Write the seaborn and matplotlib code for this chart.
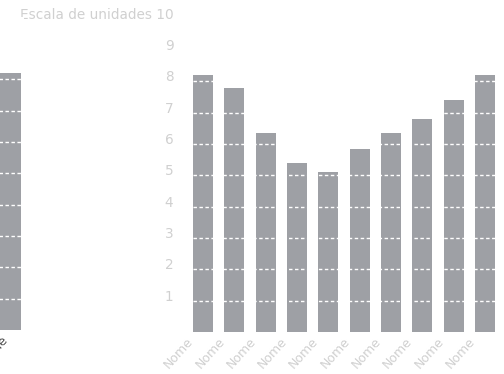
import matplotlib
matplotlib.use("Agg")
import matplotlib.pyplot as plt
from matplotlib.transforms import ScaledTranslation
import pandas as pd
import seaborn as sns

# Values per bar (scale of units 0-10)
categorias = ["Nome"] * 10
valores = [8.2, 7.8, 6.35, 5.4, 5.1, 5.85, 6.35, 6.8, 7.4, 8.2]
rotulos_y = ["1", "2", "3", "4", "5", "6", "7", "8", "9", "Escala de unidades 10"]
marcas_y = [1, 2, 3, 4, 5, 6, 7, 8, 9, 10]

# Neighbouring chart, only its last bar shows at the left edge
categorias_esq = ["Nome"]
valores_esq = [8.2]

cor_barra = "#9ea0a5"
cor_texto = "#d0d0d0"

sns.set_theme(style="white")
plt.rcParams["font.family"] = ["DejaVu Sans"]

W, H = 504, 374
fig = plt.figure(figsize=(W / 100, H / 100), dpi=100)
fig.patch.set_facecolor("white")

passo = 31.33  # pixels per category / per unit


def estilo(ax, rot_x, cor_x, dx_px):
    ax.set_facecolor("white")
    sns.despine(ax=ax, left=True, bottom=True)
    ax.set_ylim(0, 10)
    ax.set_yticks(marcas_y)
    ax.grid(axis="y", color="white", linestyle=(0, (2.5, 1.8)), linewidth=1.0)
    ax.grid(axis="x", visible=False)
    ax.set_axisbelow(False)
    ax.tick_params(axis="both", length=0)
    ax.set_xlabel("")
    ax.set_ylabel("")
    ax.set_xticks(range(len(rot_x)))
    ax.set_xticklabels(rot_x, rotation=48, ha="right", va="center",
                       rotation_mode="anchor", color=cor_x, fontsize=9)
    ax.tick_params(axis="x", pad=5)
    for lab in ax.get_xticklabels():
        lab.set_transform(lab.get_transform() +
                          ScaledTranslation(dx_px / 100, 0, fig.dpi_scale_trans))


# main chart
x0 = 203 - 0.5 * passo
ax = fig.add_axes([x0 / W, 42 / H, 10 * passo / W, 10 * passo / H])
df = pd.DataFrame({"pos": range(len(valores)), "valor": valores})
sns.barplot(data=df, x="pos", y="valor", color=cor_barra, saturation=1,
            width=0.64, ax=ax)
for p in ax.patches:
    p.set_edgecolor("none")
ax.set_xlim(-0.5, len(valores) - 0.5)
estilo(ax, categorias, cor_texto, -12)
ax.set_yticklabels(rotulos_y, color=cor_texto, fontsize=9.8)
ax.tick_params(axis="y", pad=10)
for lab in ax.get_yticklabels():
    lab.set_verticalalignment("bottom")
    lab.set_transform(lab.get_transform() +
                      ScaledTranslation(0, -3 / 100, fig.dpi_scale_trans))

# partial chart at the left edge
axl = fig.add_axes([(8 - 0.5 * passo) / W, 44 / H, passo / W, 10 * passo / H])
dfl = pd.DataFrame({"pos": range(len(valores_esq)), "valor": valores_esq})
sns.barplot(data=dfl, x="pos", y="valor", color=cor_barra, saturation=1,
            width=0.85, ax=axl)
for p in axl.patches:
    p.set_edgecolor("none")
axl.set_xlim(-0.5, 0.5)
estilo(axl, categorias_esq, "#555555", -2)
axl.set_yticklabels([])

fig.savefig("out.png", dpi=100, facecolor="white")
